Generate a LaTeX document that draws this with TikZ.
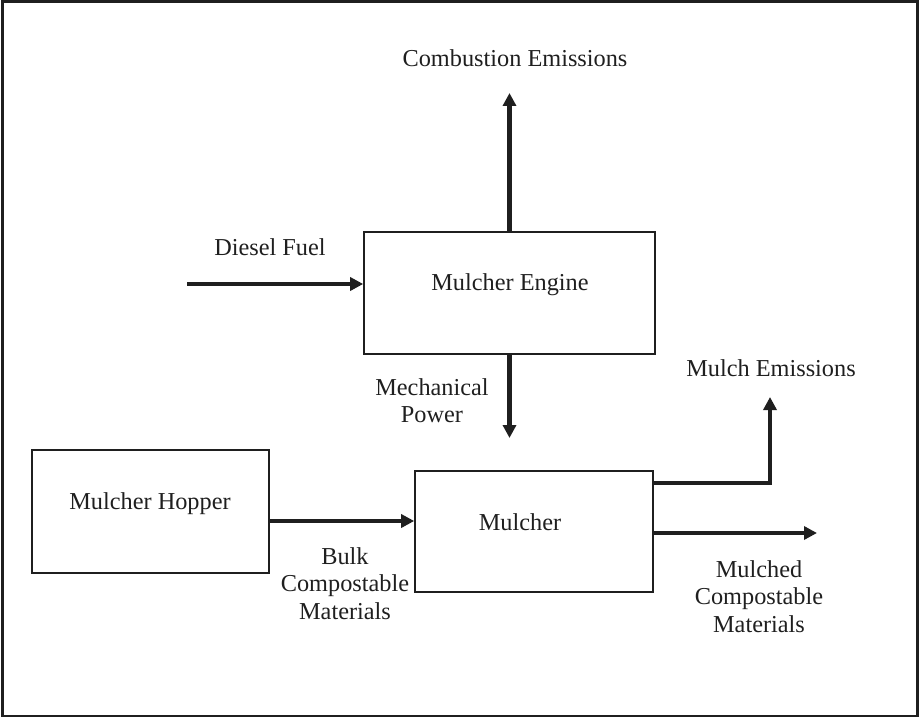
\documentclass[tikz,border=0pt]{standalone}
\usepackage{fontspec}
\setmainfont{Liberation Serif}
\usetikzlibrary{arrows.meta}
\begin{document}
\begin{tikzpicture}[x=1pt,y=-1pt,
  box/.style={draw=black!88,line width=1.6pt,inner sep=0pt},
  txt/.style={font=\fontsize{24.3}{27.5}\selectfont,align=center,inner sep=0pt,text=black!88},
  arr/.style={draw=black!88,line width=4.3pt,-{Triangle[length=13pt,width=13pt]}}]
\useasboundingbox (0,0) rectangle (920,719);
\draw[black!88,line width=2.5pt] (2.5,1.5) rectangle (917.5,716);
% boxes
\node[box,minimum width=291pt,minimum height=122pt] (engine) at (509.5,293) {};
\node[box,minimum width=237pt,minimum height=123pt] (hopper) at (150.5,511.5) {};
\node[box,minimum width=238pt,minimum height=121pt] (mulcher) at (534,531.5) {};
% box texts
\node[txt] (tengine) at (510,285) {Mulcher Engine};
\node[txt] (thopper) at (150,504) {Mulcher Hopper};
\node[txt] (tmulcher) at (520,522) {Mulcher};
% labels
\node[txt] (tcomb) at (515,58.5) {Combustion Emissions};
\node[txt] (tdiesel) at (270,247.5) {Diesel Fuel};
\node[txt] (tmech) at (432,400.5) {Mechanical\\Power};
\node[txt] (tbulk) at (345,583.5) {Bulk\\Compostable\\Materials};
\node[txt] (tmemis) at (771,368.5) {Mulch Emissions};
\node[txt] (tmulched) at (759,596.5) {Mulched\\Compostable\\Materials};
% coordinates
\coordinate (dieselstart) at (187,284);
\coordinate (combend) at (509.5,93);
\coordinate (mechend) at (509.5,438);
\coordinate (emisend) at (770,397);
\coordinate (mulchedend) at (817,533);
% arrows
\draw[arr] (dieselstart) -- ([yshift=9pt]engine.west);
\draw[arr] (engine.north) -- (combend);
\draw[arr] (engine.south) -- (mechend);
\draw[arr] ([yshift=-9.5pt]hopper.east) -- ([yshift=10.5pt]mulcher.west);
\draw[arr] ([yshift=48.5pt]mulcher.east) -| (emisend);
\draw[arr] ([yshift=-1.5pt]mulcher.east) -- (mulchedend);
\end{tikzpicture}
\end{document}
